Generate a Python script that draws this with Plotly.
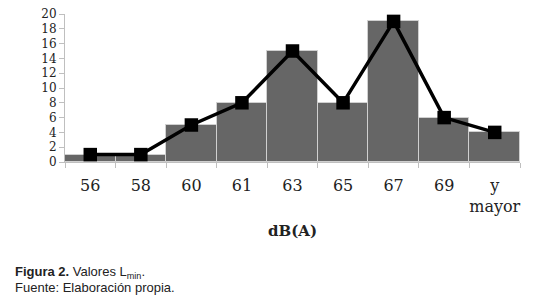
import plotly.graph_objects as go

categories = ["56", "58", "60", "61", "63", "65", "67", "69", "y<br>mayor"]
bar_values = [1, 1, 5, 8, 15, 8, 19, 6, 4]
line_values = [1, 1, 5, 8, 15, 8, 19, 6, 4]
y_ticks = list(range(0, 21, 2))

W, H = 541, 307
ML, MR, MT, MB = 65, 21, 14, 144.5

fig = go.Figure()
fig.add_trace(go.Bar(
    x=categories, y=bar_values,
    marker=dict(color="#666666", line=dict(color="#d0d0d0", width=1)),
    showlegend=False, hoverinfo="skip",
))
fig.add_trace(go.Scatter(
    x=categories, y=line_values, mode="lines+markers",
    line=dict(color="black", width=3.5),
    marker=dict(symbol="square", size=13.5, color="black"),
    showlegend=False,
))

serif = "'DejaVu Serif', Cambria, 'Liberation Serif', serif"
fig.update_layout(
    width=W, height=H,
    margin=dict(l=ML, r=MR, t=MT, b=MB, autoexpand=False),
    paper_bgcolor="white", plot_bgcolor="white",
    bargap=0,
    xaxis=dict(
        type="category", showgrid=False, showline=True, linecolor="#bfbfbf", linewidth=1,
        ticks="outside", tickson="boundaries", ticklen=5, tickcolor="#bfbfbf",
        tickfont=dict(family=serif, size=16, color="#222222"),
        tickangle=0, automargin=False, ticklabelstandoff=9,
        range=[-0.5, 8.5],
    ),
    yaxis=dict(
        range=[0, 20], tickvals=y_ticks, showgrid=False, showline=True,
        linecolor="#bfbfbf", linewidth=1, ticks="outside", ticklen=5, tickcolor="#bfbfbf",
        tickfont=dict(family=serif, size=12, color="#222222"),
        zeroline=False, automargin=False,
    ),
)

plot_h = H - MT - MB
plot_w = W - ML - MR
def py(ypix):
    return (H - MB - ypix) / plot_h
def px(xpix):
    return (xpix - ML) / plot_w

fig.add_annotation(text="<b>dB(A)</b>", x=0.5, y=py(232), xref="paper", yref="paper",
                   showarrow=False, font=dict(family=serif, size=15, color="#222222"),
                   xanchor="center", yanchor="middle")
caption_font = "'Liberation Sans Narrow', 'Arial Narrow', 'Liberation Sans', Arial, sans-serif"
fig.add_annotation(text="<b>Figura 2.</b> Valores L<sub>min</sub>.",
                   x=px(13), y=py(273), xref="paper", yref="paper",
                   showarrow=False, align="left", xanchor="left", yanchor="middle",
                   font=dict(family=caption_font, size=13, color="#222222"))
fig.add_annotation(text="Fuente: Elaboración propia.",
                   x=px(13), y=py(288), xref="paper", yref="paper",
                   showarrow=False, align="left", xanchor="left", yanchor="middle",
                   font=dict(family=caption_font, size=13, color="#222222"))

fig.write_html("out.html", config={"displayModeBar": False},
               post_script="document.body.style.margin='0';")
